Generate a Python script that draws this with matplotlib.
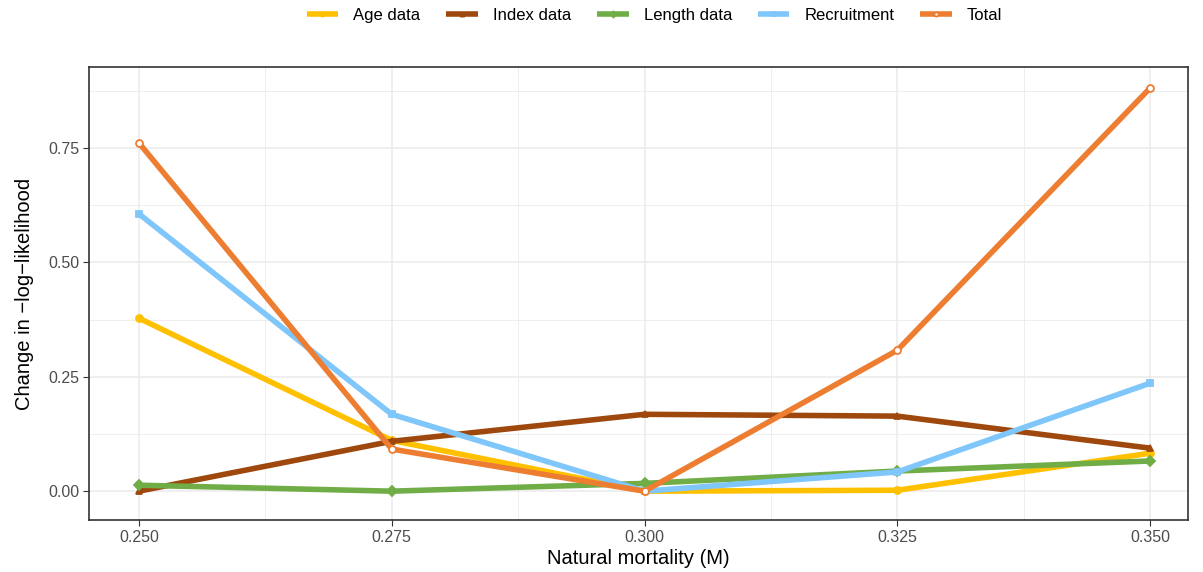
import matplotlib
matplotlib.use("Agg")
import matplotlib.pyplot as plt
from matplotlib.ticker import MultipleLocator

plt.rcParams['font.family'] = ['Liberation Sans', 'DejaVu Sans']

m_vals = [0.250, 0.275, 0.300, 0.325, 0.350]
age = [0.378, 0.111, 0.0, 0.002, 0.083]
index = [0.0, 0.109, 0.168, 0.164, 0.094]
length = [0.013, 0.0, 0.017, 0.044, 0.066]
recruit = [0.606, 0.168, 0.0, 0.042, 0.236]
total = [0.761, 0.092, 0.0, 0.308, 0.881]

series = [
    ("Age data", age, "#FFC000", "o", True),
    ("Index data", index, "#9E480E", "^", True),
    ("Length data", length, "#70AD47", "D", True),
    ("Recruitment", recruit, "#7FC6FB", "s", True),
    ("Total", total, "#ED7D31", "o", False),
]

fig = plt.figure(figsize=(12.03, 5.72), dpi=100)
ax = fig.add_axes([89/1203, 1-520/572, (1188-89)/1203, (520-67)/572])

for name, vals, col, mk, filled in series:
    ax.plot(m_vals, vals, color=col, lw=4.0, marker=mk, ms=5,
            markerfacecolor=col if filled else "white",
            markeredgecolor=col, markeredgewidth=1.3, label=name,
            solid_capstyle="butt")

ax.set_xlim(0.24506, 0.35375)
ax.set_ylim(-0.063, 0.927)
ax.set_xticks(m_vals)
ax.set_xticklabels(["0.250", "0.275", "0.300", "0.325", "0.350"])
ax.set_yticks([0, 0.25, 0.5, 0.75])
ax.set_yticklabels(["0.00", "0.25", "0.50", "0.75"])
ax.xaxis.set_minor_locator(MultipleLocator(0.0125))
ax.yaxis.set_minor_locator(MultipleLocator(0.125))
ax.grid(which="major", color="#EBEBEB", lw=1.1)
ax.grid(which="minor", color="#EBEBEB", lw=0.6)
ax.set_axisbelow(True)
for s in ax.spines.values():
    s.set_color("#333333")
    s.set_linewidth(1.2)
ax.tick_params(which="major", length=4, color="#333333", labelsize=11.5,
               labelcolor="#4D4D4D", pad=3)
ax.tick_params(which="minor", length=0)

ax.set_xlabel("Natural mortality (M)", fontsize=14.5, labelpad=3)
ax.set_ylabel("Change in \u2212log\u2212likelihood", fontsize=14.5, labelpad=10)

fig.legend(loc="upper center", bbox_to_anchor=(0.544, 1.013), ncol=5,
           frameon=False, fontsize=12, handlelength=1.9, columnspacing=1.55,
           handletextpad=0.9, markerscale=0.6)

fig.savefig("out.png", dpi=100)
